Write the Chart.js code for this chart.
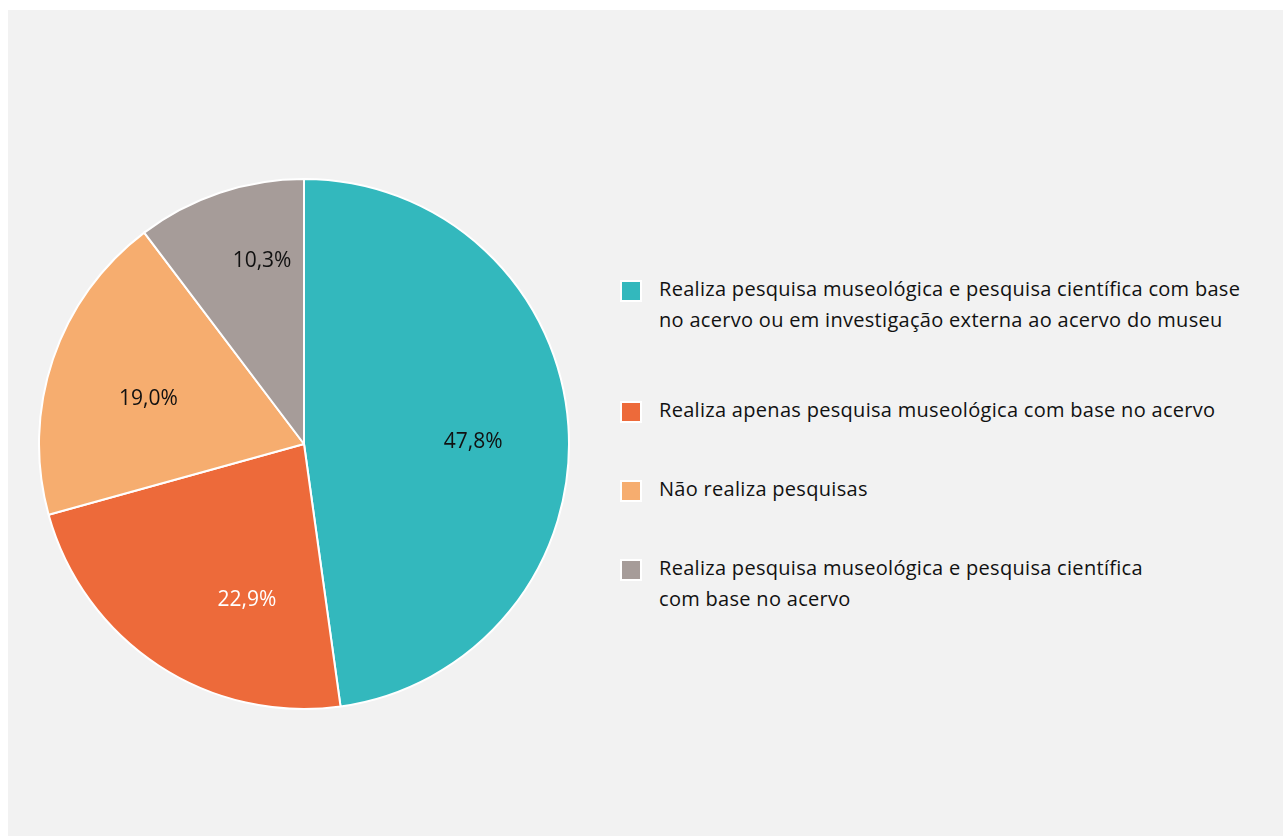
<!DOCTYPE html>
<html>
<head>
<meta charset="utf-8">
<script src="https://cdn.jsdelivr.net/npm/chart.js@4.4.1/dist/chart.umd.min.js"></script>
<style>
  html, body { margin:0; padding:0; background:#fff; }
  body { width:1283px; height:836px; position:relative; overflow:hidden; font-family:"Open Sans", sans-serif; }
  #panel { position:absolute; left:8px; top:10px; width:1275px; height:826px; background:#f2f2f2; }
  #pieBox { position:absolute; left:38px; top:178px; width:532px; height:532px; }
  #legend { position:absolute; left:0; top:0; width:1283px; }
  .item { position:absolute; left:620px; display:flex; align-items:flex-start; white-space:nowrap; }
  .sw { flex:0 0 auto; width:18px; height:18px; border:2px solid #fff; margin-top:3px; box-sizing:content-box; }
  .txt { margin-left:17px; font-size:20px; letter-spacing:0.3px; line-height:31px; color:#111; margin-top:-4px; }
</style>
</head>
<body>
<div id="panel"></div>
<div id="pieBox"><canvas id="pie"></canvas></div>
<div id="legend"></div>
<script>
/* ====== DATA ====== */
const categories = [
  ["Realiza pesquisa museológica e pesquisa científica com base", "no acervo ou em investigação externa ao acervo do museu"],
  ["Realiza apenas pesquisa museológica com base no acervo"],
  ["Não realiza pesquisas"],
  ["Realiza pesquisa museológica e pesquisa científica", "com base no acervo"]
];
const values = [47.8, 22.9, 19.0, 10.3];

/* ====== STYLE ====== */
const colors      = ["#33b8bd", "#ed6a3a", "#f6ad6f", "#a69c99"];
const labelColors = ["#111", "#fff", "#111", "#111"];
const labelNudge  = [[0, 10], [36, 14], [5, 9], [12, -22]];
const legendTops  = [277, 398, 477, 556];

/* ====== SLICE LABELS ====== */
const sliceLabels = {
  id: "sliceLabels",
  afterDatasetsDraw(chart, args, opts){
    const {ctx} = chart;
    const meta = chart.getDatasetMeta(0);
    ctx.save();
    ctx.font = opts.font;
    ctx.textAlign = "center";
    ctx.textBaseline = "middle";
    meta.data.forEach((arc, i)=>{
      const p = arc.getProps(["x","y","startAngle","endAngle","outerRadius"], true);
      const mid = (p.startAngle + p.endAngle) / 2;
      const r = p.outerRadius * opts.factor;
      const x = p.x + Math.cos(mid) * r + opts.nudge[i][0];
      const y = p.y + Math.sin(mid) * r + opts.nudge[i][1];
      ctx.fillStyle = opts.colors[i];
      ctx.fillText(values[i].toFixed(1).replace(".", ",") + "%", x, y);
    });
    ctx.restore();
  }
};

new Chart(document.getElementById("pie"), {
  type: "pie",
  data: {
    labels: categories.map(c=>c.join(" ")),
    datasets: [{ data: values, backgroundColor: colors, borderColor: "#fff", borderWidth: 2 }]
  },
  options: {
    responsive: true,
    maintainAspectRatio: false,
    animation: false,
    layout: { padding: 0 },
    plugins: {
      legend: { display: false },
      tooltip: { enabled: false },
      sliceLabels: { font: "21px 'Open Sans'", factor: 0.64, colors: labelColors, nudge: labelNudge }
    }
  },
  plugins: [sliceLabels]
});

/* ====== LEGEND ====== */
const lg = document.getElementById("legend");
categories.forEach((lines, i)=>{
  const it = document.createElement("div");
  it.className = "item";
  it.style.top = legendTops[i] + "px";
  it.innerHTML = `<div class="sw" style="background:${colors[i]}"></div><div class="txt">${lines.join("<br>")}</div>`;
  lg.appendChild(it);
});
</script>
</body>
</html>
